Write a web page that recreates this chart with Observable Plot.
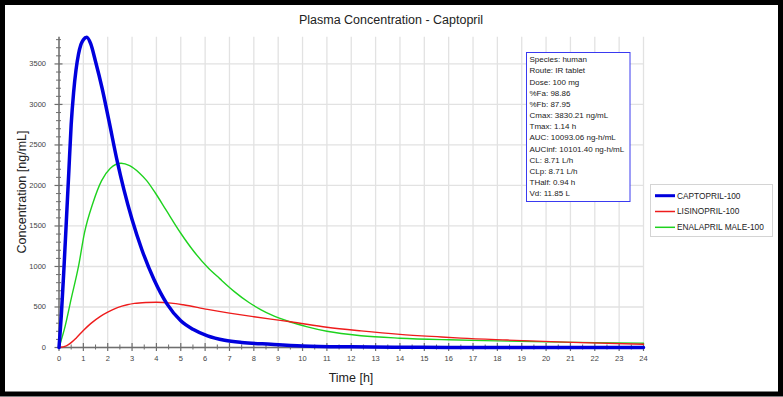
<!DOCTYPE html>
<html><head><meta charset="utf-8">
<script src="https://cdn.jsdelivr.net/npm/d3@7"></script>
<script src="https://cdn.jsdelivr.net/npm/@observablehq/plot@0.6"></script>
<style>body{margin:0;background:#fff;} svg{display:block}</style>
</head><body><div id="chart"></div>
<script>
// ---- data ----
const captoprilT = [0, 0.1, 0.2, 0.3, 0.4, 0.5, 0.6, 0.7, 0.8, 0.9, 1.0, 1.14, 1.3, 1.5, 1.77, 2.05, 2.39, 2.66, 3.0, 3.4, 3.9, 4.44, 5.0, 5.5, 6.1, 6.8, 7.5, 8.7, 10, 12, 14, 16, 18, 20, 22, 24];
const captoprilV = [0, 420, 960, 1550, 2150, 2750, 3150, 3430, 3620, 3740, 3800, 3830, 3750, 3530, 3200, 2800, 2300, 1955, 1580, 1210, 840, 536, 330, 225, 144, 90, 62, 40, 20, 8, 3, 1, 0.5, 0.2, 0.1, 0];

const lisinoprilT = [0, 0.3, 0.5, 0.7, 1.0, 1.3, 1.7, 2.0, 2.4, 2.8, 3.1, 3.6, 4.0, 4.6, 5.1, 6.1, 7.0, 8.0, 8.7, 9.5, 11, 12.4, 14, 15.7, 16.5, 18.4, 21.1, 24];
const lisinoprilV = [0, 20, 60, 115, 210, 295, 385, 437, 492, 527, 544, 556, 559, 548, 527, 470, 425, 380, 350, 318, 250, 205, 162, 130, 116, 92, 63, 41];

const enalaprilT = [0, 0.25, 0.5, 0.8, 1.05, 1.4, 1.75, 2.1, 2.55, 2.9, 3.3, 3.6, 3.95, 4.4, 5.0, 5.5, 6.1, 6.6, 7.2, 7.8, 8.3, 8.7, 9.5, 10.2, 11, 12.4, 14, 16, 18, 20, 22, 24];
const enalaprilV = [0, 260, 600, 1000, 1420, 1790, 2060, 2210, 2275, 2245, 2155, 2060, 1910, 1695, 1410, 1200, 990, 850, 690, 555, 465, 405, 315, 255, 200, 145, 115, 95, 82, 70, 60, 53];

const seriesNames = ["CAPTOPRIL-100", "LISINOPRIL-100", "ENALAPRIL MALE-100"];
const seriesColors = ["#0000dd", "#ee1c1c", "#1ed21e"];
const seriesWidths = [3.5, 1.4, 1.4];

const xMajorTicks = d3.range(0, 25, 1);
const xMinorTicks = d3.range(0.5, 24, 1);
const yMajorTicks = d3.range(0, 3501, 500);
const yMinorTicks = d3.range(100, 3830, 100).filter(d => d % 500 !== 0);

const infoLines = ["Species: human", "Route: IR tablet", "Dose: 100 mg", "%Fa: 98.86", "%Fb: 87.95",
  "Cmax: 3830.21 ng/mL", "Tmax: 1.14 h", "AUC: 10093.06 ng-h/mL", "AUCinf: 10101.40 ng-h/mL",
  "CL: 8.71 L/h", "CLp: 8.71 L/h", "THalf: 0.94 h", "Vd: 11.85 L"];

const titleText = "Plasma Concentration - Captopril";
const xLabel = "Time [h]";
const yLabel = "Concentration [ng/mL]";

// ---- build tables ----
const toRows = (T, V) => T.map((t, i) => ({t, v: V[i]}));
const cap = toRows(captoprilT, captoprilV);
const lis = toRows(lisinoprilT, lisinoprilV);
const ena = toRows(enalaprilT, enalaprilV);

const W = 783, H = 397;
const mL = 58.5, mR = 140, mT = 36.7, mB = 50;
const FONT = "Liberation Sans, Arial, sans-serif";
const axisColor = "#6e6e6e";
const gridColor = "#e2e2e2";

const svg = Plot.plot({
  width: W, height: H,
  marginLeft: mL, marginRight: mR, marginTop: mT, marginBottom: mB,
  x: {domain: [0, 24], axis: null},
  y: {domain: [0, 3830], axis: null},
  style: {fontFamily: FONT, background: "#fff"},
  marks: [
    Plot.ruleX(xMajorTicks, {x: d => d, stroke: gridColor, strokeWidth: 1.3}),
    Plot.ruleY(yMajorTicks, {y: d => d, stroke: gridColor, strokeWidth: 1.3}),
    Plot.ruleY([0], {stroke: axisColor, strokeWidth: 1.5}),
    Plot.ruleX([0], {stroke: axisColor, strokeWidth: 1.5}),
    Plot.ruleX(xMajorTicks, {x: d => d, y1: 0, y2: 0, insetTop: 4, insetBottom: 4, stroke: axisColor, strokeWidth: 1.2}),
    Plot.ruleX(xMinorTicks, {x: d => d, y1: 0, y2: 0, insetTop: 2.5, insetBottom: 2.5, stroke: axisColor, strokeWidth: 1}),
    Plot.ruleY(yMajorTicks, {y: d => d, x1: 0, x2: 0, insetLeft: 4, insetRight: 4, stroke: axisColor, strokeWidth: 1.2}),
    Plot.ruleY(yMinorTicks, {y: d => d, x1: 0, x2: 0, insetLeft: 2.5, insetRight: 2.5, stroke: axisColor, strokeWidth: 1}),
    Plot.text(xMajorTicks, {x: d => d, y: 0, dy: 11.5, text: d => String(d), fontSize: 7.5, fill: "#444"}),
    Plot.text(yMajorTicks, {x: 0, y: d => d, dx: -13, text: d => String(d), textAnchor: "end", fontSize: 7.5, fill: "#444"}),
    Plot.line(ena, {x: "t", y: "v", stroke: seriesColors[2], strokeWidth: seriesWidths[2], curve: "monotone-x"}),
    Plot.line(lis, {x: "t", y: "v", stroke: seriesColors[1], strokeWidth: seriesWidths[1], curve: "monotone-x"}),
    Plot.line(cap, {x: "t", y: "v", stroke: seriesColors[0], strokeWidth: seriesWidths[0], curve: "monotone-x"})
  ]
});

const s = d3.select(svg);
s.append("text").attr("x", 391).attr("y", 24).attr("text-anchor", "middle")
  .attr("font-family", FONT).attr("font-size", 12.5).attr("fill", "#222").text(titleText);
s.append("text").attr("x", 351).attr("y", 382).attr("text-anchor", "middle")
  .attr("font-family", FONT).attr("font-size", 12.5).attr("fill", "#222").text(xLabel);
s.append("text").attr("transform", "translate(26,192) rotate(-90)").attr("text-anchor", "middle")
  .attr("font-family", FONT).attr("font-size", 12.5).attr("fill", "#222").text(yLabel);

// info box
const ib = s.append("g").attr("text-anchor", "start");
ib.append("rect").attr("x", 526.5).attr("y", 52.5).attr("width", 103.5).attr("height", 149)
  .attr("fill", "#fff").attr("stroke", "#3a3af0").attr("stroke-width", 1);
infoLines.forEach((t, i) => {
  ib.append("text").attr("x", 529.5).attr("y", 59.5 + i * 11.15).attr("dy", "0.35em")
    .attr("text-anchor", "start")
    .attr("font-family", FONT).attr("font-size", 8).attr("fill", "#222").text(t);
});

// legend
const lg = s.append("g").attr("text-anchor", "start");
lg.append("rect").attr("x", 650.5).attr("y", 184.5).attr("width", 122).attr("height", 52)
  .attr("fill", "#fff").attr("stroke", "#d4d4d4").attr("stroke-width", 1);
seriesNames.forEach((n, i) => {
  const y = 195.7 + i * 15.8;
  lg.append("line").attr("x1", 655).attr("x2", 675).attr("y1", y).attr("y2", y)
    .attr("stroke", seriesColors[i]).attr("stroke-width", i === 0 ? 3 : 1.5);
  lg.append("text").attr("x", 677).attr("y", y).attr("dy", "0.35em")
    .attr("text-anchor", "start")
    .attr("font-family", FONT).attr("font-size", 8.3).attr("fill", "#222").text(n);
});

// outer black frame
s.append("rect").attr("x", 2.5).attr("y", 2.5).attr("width", W - 5).attr("height", H - 5.5)
  .attr("fill", "none").attr("stroke", "#000").attr("stroke-width", 5);

document.getElementById("chart").appendChild(svg);
</script></body></html>
